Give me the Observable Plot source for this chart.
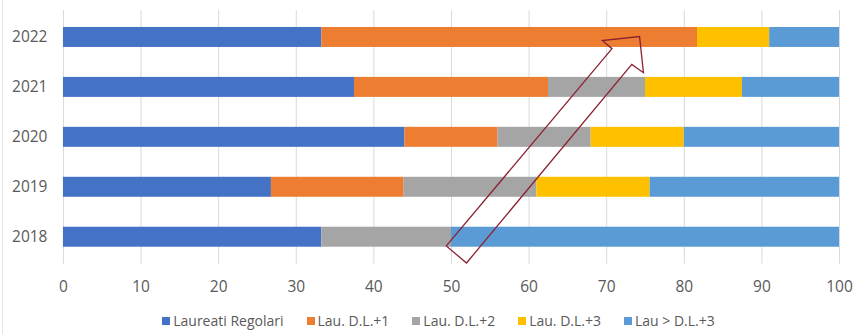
<!DOCTYPE html>
<html>
<head>
<meta charset="utf-8">
<script src="https://cdn.jsdelivr.net/npm/d3@7"></script>
<script src="https://cdn.jsdelivr.net/npm/@observablehq/plot@0.6"></script>
<style>
  html, body { margin: 0; padding: 0; background: #fff; }
  #wrap { height: 334px; position: relative; font-family: "Open Sans", sans-serif; border-left: 1px solid #e6e6e6; box-sizing: border-box; margin-left: 2px; width: 862px; }
  #legend { display: flex; justify-content: center; align-items: center; gap: 23px; padding-top: 12px; padding-left: 10px; font-size: 14px; color: #595959; line-height: 18px; }
  #legend .item { display: flex; align-items: center; gap: 3px; }
  #legend .sw { width: 8px; height: 8px; display: inline-block; }
</style>
</head>
<body>
<div id="wrap"><div id="chart"></div><div id="legend"></div></div>
<script>
const years = ["2022", "2021", "2020", "2019", "2018"];
const series = ["Laureati Regolari", "Lau. D.L.+1", "Lau. D.L.+2", "Lau. D.L.+3", "Lau > D.L.+3"];
const regolari = [33.3, 37.5, 44.0, 26.8, 33.3];
const dl1      = [48.4, 25.0, 12.0, 17.1, 0];
const dl2      = [0,    12.5, 12.0, 17.1, 16.7];
const dl3      = [9.3,  12.5, 12.0, 14.6, 0];
const dlOver3  = [9.0,  12.5, 20.0, 24.4, 50.0];
const colors = ["#4472C4", "#ED7D31", "#A5A5A5", "#FFC000", "#5B9BD5"];
const xTicks = [0, 10, 20, 30, 40, 50, 60, 70, 80, 90, 100];
// annotation arrow outline: x in value units, u in year-band steps from 2022 centre
const arrowX = [49.4, 70.75, 69.5, 74.3, 74.8, 73.3, 52.0];
const arrowU = [4.185, 0.234, 0.071, -0.008, 0.715, 0.549, 4.526];

const seriesValues = [regolari, dl1, dl2, dl3, dlOver3];
const data = [];
years.forEach((y, i) => series.forEach((s, j) => data.push({year: y, series: s, value: seriesValues[j][i]})));

const plot = Plot.plot({
  width: 862,
  height: 300,
  marginTop: 10,
  marginBottom: 36,
  marginLeft: 60,
  marginRight: 25,
  style: {fontFamily: "'Open Sans', sans-serif", fontSize: "15.5px", color: "#595959", background: "transparent"},
  x: {domain: [0, 100], ticks: xTicks, tickSize: 0, tickPadding: 17, label: null},
  y: {domain: years, paddingInner: 0.6, paddingOuter: 0.3, tickSize: 0, tickPadding: 16, label: null},
  color: {domain: series, range: colors},
  marks: [
    Plot.gridX(xTicks, {stroke: "#d9d9d9", strokeOpacity: 1, strokeWidth: 1}),
    Plot.barX(data, Plot.stackX({x: "value", y: "year", fill: "series", order: series}))
  ]
});
document.getElementById("chart").appendChild(plot);

// arrow annotation through the plot's own scales
const xs = plot.scale("x"), ys = plot.scale("y");
const y0 = ys.apply(years[0]) + ys.bandwidth / 2;
const step = ys.apply(years[1]) - ys.apply(years[0]);
const pts = arrowX.map((v, i) => [xs.apply(v), y0 + arrowU[i] * step]);
d3.select(plot).append("path")
  .attr("d", d3.line()(pts) + "Z")
  .attr("fill", "none")
  .attr("stroke", "#8B2232")
  .attr("stroke-width", 1.3)
  .attr("stroke-linejoin", "miter");

const legend = document.getElementById("legend");
series.forEach((s, i) => {
  const it = document.createElement("div");
  it.className = "item";
  it.innerHTML = `<span class="sw" style="background:${colors[i]}"></span><span>${s}</span>`;
  legend.appendChild(it);
});
</script>
</body>
</html>
